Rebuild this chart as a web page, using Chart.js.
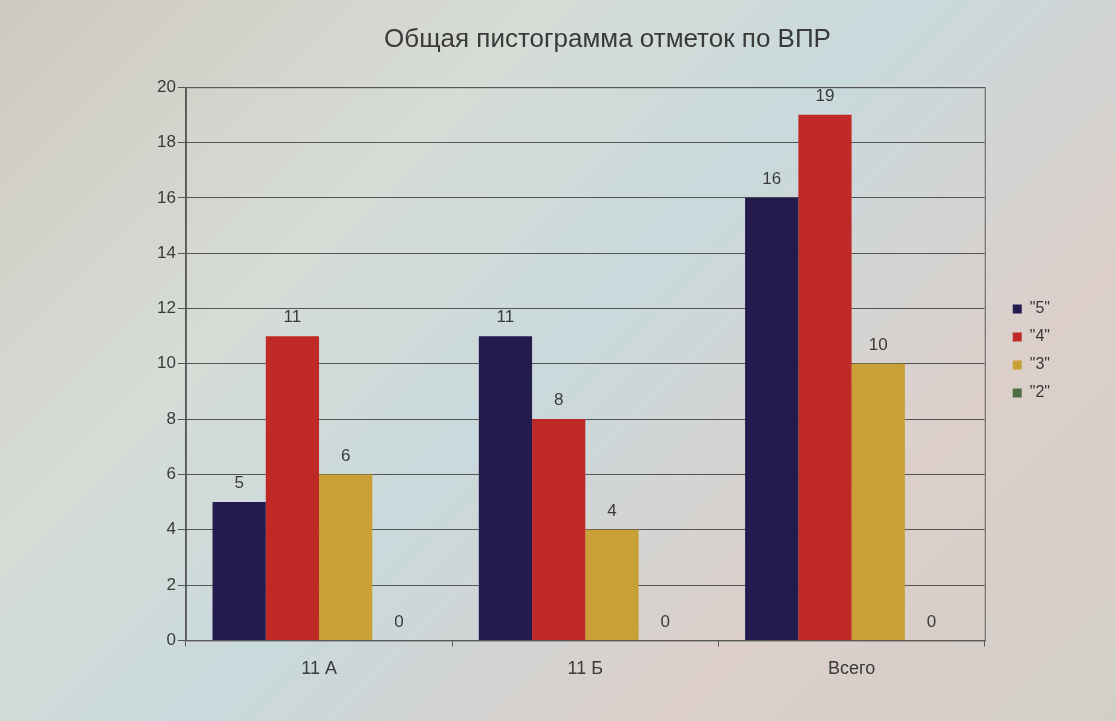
<!DOCTYPE html>
<html><head><meta charset="utf-8">
<script src="https://cdn.jsdelivr.net/npm/chart.js@4.4.1/dist/chart.umd.min.js"></script>
<style>
html,body{margin:0;padding:0;}
body{width:1116px;height:721px;background:linear-gradient(135deg,#cfc9c0 0%,#d6dcd6 30%,#c9d9dc 50%,#dccfca 75%,#d3cfc8 100%);}
#wrap{position:absolute;left:0;top:0;width:1116px;height:721px;}
</style></head>
<body><div id="wrap"><canvas id="c" width="1116" height="721"></canvas></div>
<script>
const categories = ['11 А', '11 Б', 'Всего'];
const seriesNames = ['"5"', '"4"', '"3"', '"2"'];
const grade5 = [5, 11, 16];
const grade4 = [11, 8, 19];
const grade3 = [6, 4, 10];
const grade2 = [0, 0, 0];
const yTicks = [0, 2, 4, 6, 8, 10, 12, 14, 16, 18, 20];
const colors = ['#231b4d', '#c02a26', '#c9a035', '#4d6e45'];
const FONT = '"Liberation Sans", Arial, sans-serif';

const labelPlugin = {
  id: 'barLabels',
  afterDatasetsDraw(chart) {
    const ctx = chart.ctx;
    ctx.save();
    ctx.font = '17px ' + FONT;
    ctx.fillStyle = '#3a3a3a';
    ctx.textAlign = 'center';
    ctx.textBaseline = 'bottom';
    chart.data.datasets.forEach((ds, i) => {
      const meta = chart.getDatasetMeta(i);
      meta.data.forEach((bar, j) => {
        ctx.fillText(String(ds.data[j]), bar.x, bar.y - 10);
      });
    });
    ctx.restore();
  }
};

const LEGEND_GAP = 16;
const framePlugin = {
  id: 'frame',
  beforeLayout(chart) {
    const lg = chart.legend;
    if (lg && !lg._wrappedFit) {
      const orig = lg.fit.bind(lg);
      lg.fit = function () { orig(); this.width += LEGEND_GAP; };
      lg._wrappedFit = true;
    }
  },
  afterLayout(chart) {
    if (chart.legend) { chart.legend.left += LEGEND_GAP; }
  },
  beforeDatasetsDraw(chart) {
    const {ctx, chartArea: a} = chart;
    ctx.save();
    ctx.strokeStyle = '#5a5a5a';
    ctx.lineWidth = 1;
    ctx.strokeRect(a.left + 0.5, a.top + 0.5, a.right - a.left, a.bottom - a.top);
    ctx.restore();
  }
};

new Chart(document.getElementById('c'), {
  type: 'bar',
  data: {
    labels: categories,
    datasets: [
      {label: seriesNames[0], data: grade5, backgroundColor: colors[0]},
      {label: seriesNames[1], data: grade4, backgroundColor: colors[1]},
      {label: seriesNames[2], data: grade3, backgroundColor: colors[2]},
      {label: seriesNames[3], data: grade2, backgroundColor: colors[3]}
    ]
  },
  options: {
    responsive: false,
    animation: false,
    layout: {padding: {left: 155, right: 56, top: 10, bottom: 29}},
    datasets: {bar: {categoryPercentage: 0.8, barPercentage: 1.0}},
    plugins: {
      title: {display: true, text: 'Общая пистограмма отметок по ВПР', color: '#3a3a3a',
        font: {size: 26, family: FONT, weight: 'normal'},
        padding: {top: 14, bottom: 32}},
      legend: {position: 'right', align: 'center',
        labels: {boxWidth: 9, boxHeight: 9, color: '#3a3a3a', padding: 12,
          font: {size: 16, family: FONT}}},
      tooltip: {enabled: false}
    },
    scales: {
      x: {
        grid: {display: true, offset: true, drawOnChartArea: false, color: '#5a5a5a', tickLength: 6},
        border: {color: '#5a5a5a'},
        ticks: {color: '#3a3a3a', font: {size: 18, family: FONT}, padding: 12}
      },
      y: {
        min: 0, max: 20,
        afterBuildTicks(axis) { axis.ticks = yTicks.map(v => ({value: v})); },
        grid: {color: '#555555', tickLength: 8},
        border: {color: '#5a5a5a'},
        ticks: {color: '#3a3a3a', font: {size: 17, family: FONT}, padding: 2}
      }
    }
  },
  plugins: [labelPlugin, framePlugin]
});
</script></body></html>
